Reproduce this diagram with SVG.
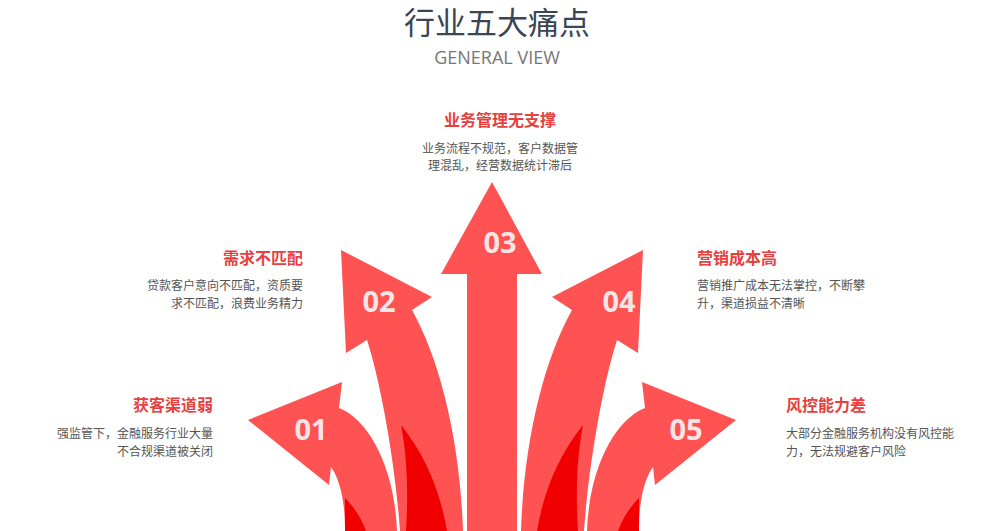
<svg xmlns="http://www.w3.org/2000/svg" width="1000" height="531" viewBox="0 0 1000 531">
<defs><style>
.a{fill:#ff5252}.d{fill:#f00000}
.num{font-family:"Open Sans","Liberation Sans",sans-serif;font-weight:bold;font-size:29px;fill:#f4e6e6;text-anchor:middle}
.h{font-family:"Noto Sans CJK SC",sans-serif;font-weight:bold;font-size:16px;fill:#e8403f}
.p{font-family:"Noto Sans CJK SC",sans-serif;font-size:12px;fill:#555}
</style>
<g id="L">
<path class="a" d="M248,420 L342,382 L339,408 C370,420 395,470 397,531 L345,531 C345,500 340,480 331,467 L329,485 Z"/>
<path class="d" d="M345,498 L345,531 L366,531 C360,515 352,505 345,498 Z"/>
<path class="a" d="M341,250 L432,297 L412,310 C440,360 460,440 463,531 L400,531 C395,460 380,380 367,340 L346,353 Z"/>
<path class="d" d="M401,425 C408,460 408,500 406,531 L447,531 C440,490 425,455 401,425 Z"/>
</g></defs>
<text x="497" y="34" font-family="Noto Sans CJK SC,sans-serif" font-size="31" fill="#3a4556" text-anchor="middle">行业五大痛点</text>
<text x="497" y="64" font-family="Open Sans,Liberation Sans,sans-serif" font-size="18" fill="#777" text-anchor="middle">GENERAL VIEW</text>
<g id="connectors">
<use href="#L"/>
<use href="#L" transform="translate(984,0) scale(-1,1)"/>
<path class="a" d="M492,182 L542,274 L517,274 L517,531 L467,531 L467,274 L441,274 Z"/>
</g>
<g id="n1"><text class="num" x="311" y="440">01</text>
<text class="h" x="213" y="411" text-anchor="end">获客渠道弱</text>
<text class="p" x="213" y="438" text-anchor="end">强监管下，金融服务行业大量</text>
<text class="p" x="213" y="456" text-anchor="end">不合规渠道被关闭</text></g>
<g id="n2"><text class="num" x="379" y="312">02</text>
<text class="h" x="303" y="264" text-anchor="end">需求不匹配</text>
<text class="p" x="303" y="290" text-anchor="end">贷款客户意向不匹配，资质要</text>
<text class="p" x="303" y="308" text-anchor="end">求不匹配，浪费业务精力</text></g>
<g id="n3"><text class="num" x="500" y="253">03</text>
<text class="h" x="500" y="126" text-anchor="middle">业务管理无支撑</text>
<text class="p" x="500" y="153" text-anchor="middle">业务流程不规范，客户数据管</text>
<text class="p" x="500" y="170" text-anchor="middle">理混乱，经营数据统计滞后</text></g>
<g id="n4"><text class="num" x="619" y="312">04</text>
<text class="h" x="697" y="264">营销成本高</text>
<text class="p" x="697" y="290">营销推广成本无法掌控，不断攀</text>
<text class="p" x="697" y="308">升，渠道损益不清晰</text></g>
<g id="n5"><text class="num" x="686" y="440">05</text>
<text class="h" x="786" y="411">风控能力差</text>
<text class="p" x="786" y="438">大部分金融服务机构没有风控能</text>
<text class="p" x="786" y="456">力，无法规避客户风险</text></g>
</svg>
